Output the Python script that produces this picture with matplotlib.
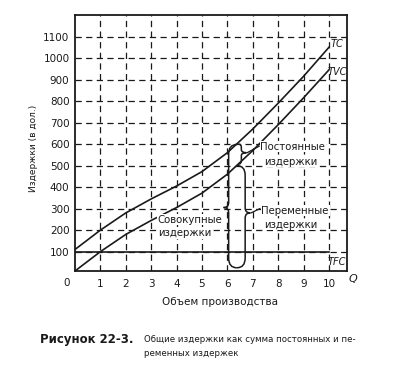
import matplotlib
matplotlib.use("Agg")
import matplotlib.pyplot as plt
from matplotlib.path import Path
from matplotlib.patches import PathPatch

# Данные
q = [0, 1, 2, 3, 4, 5, 6, 7, 8, 9, 10]
tc = [110, 200, 280, 345, 405, 472, 560, 670, 790, 915, 1050]
tvc = [10, 100, 180, 245, 305, 372, 460, 570, 690, 815, 945]
tfc_q = [0, 10]
tfc = [100, 100]

x_ticks = [1, 2, 3, 4, 5, 6, 7, 8, 9, 10]
y_ticks = [100, 200, 300, 400, 500, 600, 700, 800, 900, 1000, 1100]

W, H = 398, 374
cvet = "#1a1a1a"


def fx(px):
    return px / W


def fy(py):
    return 1 - py / H


def skobka(ax, x, y0, y1, ym, d, w_tip, w_end, h_end, h_tip):
    # фигурная скобка: d=-1 острие влево, d=1 острие вправо
    verts = [(x - d * w_end, y0), (x, y0), (x, y0 + h_end),
             (x, ym - h_tip), (x, ym), (x + d * w_tip, ym),
             (x, ym), (x, ym + h_tip),
             (x, y1 - h_end), (x, y1), (x - d * w_end, y1)]
    codes = [Path.MOVETO, Path.CURVE3, Path.CURVE3,
             Path.LINETO, Path.CURVE3, Path.CURVE3,
             Path.CURVE3, Path.CURVE3,
             Path.LINETO, Path.CURVE3, Path.CURVE3]
    ax.add_patch(PathPatch(Path(verts, codes), fc="none", ec=cvet, lw=1.1, zorder=4))


fig = plt.figure(figsize=(W / 100, H / 100), dpi=100)
ax = fig.add_axes([fx(75), fy(271), (347 - 75) / W, (271 - 15) / H])

ax.plot(q, tc, color=cvet, lw=1.2, zorder=3)
ax.plot(q, tvc, color=cvet, lw=1.2, zorder=3)
ax.plot(tfc_q, tfc, color=cvet, lw=1.2, zorder=3)

ax.set_xlim(0, 10.71)
ax.set_ylim(10, 1200)
ax.set_xticks(x_ticks)
ax.set_yticks(y_ticks)
ax.tick_params(length=0, labelsize=7.5, colors=cvet)
ax.tick_params(axis="x", pad=6)
ax.tick_params(axis="y", pad=4)
ax.grid(True, color=cvet, linestyle=(0, (5, 3.5)), linewidth=0.9)
for sp in ax.spines.values():
    sp.set_linewidth(1.3)
    sp.set_color(cvet)

# подписи кривых
ax.text(10.06, 1063, "TC", style="italic", fontsize=7, va="center", ha="left", color=cvet)
ax.text(9.94, 937, "TVC", style="italic", fontsize=7, va="center", ha="left", color=cvet)
ax.text(9.94, 50, "TFC", style="italic", fontsize=7, va="center", ha="left", color=cvet)

# скобки
skobka(ax, 6.05, 25, 598, 305, -1, 0.2, 0.32, 45, 24)
skobka(ax, 6.7, 25, 500, 280, 1, 0.2, 0.33, 45, 24)
skobka(ax, 6.55, 507, 600, 560, 1, 0.2, 0.12, 15, 14)

ax.plot([6.78, 7.25], [560, 590], color=cvet, lw=0.9, zorder=4)
ax.plot([6.93, 7.28], [280, 300], color=cvet, lw=0.9, zorder=4)

fon = dict(fc="white", ec="none", pad=0.6)
ax.text(7.3, 588, "Постоянные", fontsize=7.3, va="center", ha="left", color=cvet, bbox=fon, zorder=5)
ax.text(7.46, 519, "издержки", fontsize=7.3, va="center", ha="left", color=cvet, bbox=fon, zorder=5)
ax.text(7.34, 291, "Переменные", fontsize=7.3, va="center", ha="left", color=cvet, bbox=fon, zorder=5)
ax.text(7.46, 226, "издержки", fontsize=7.3, va="center", ha="left", color=cvet, bbox=fon, zorder=5)
ax.text(3.25, 249, "Совокупные", fontsize=7.3, va="center", ha="left", color=cvet, bbox=fon, zorder=5)
ax.text(3.29, 188, "издержки", fontsize=7.3, va="center", ha="left", color=cvet, bbox=fon, zorder=5)

# оси
fig.text(fx(67), fy(283), "0", fontsize=7.5, ha="center", va="center", color=cvet)
fig.text(fx(353), fy(279), "Q", style="italic", fontsize=8, ha="center", va="center", color=cvet)
fig.text(fx(220), fy(302), "Объем производства", fontsize=7.5, ha="center", va="center", color=cvet)
fig.text(fx(33), fy(148), "Издержки (в дол.)", fontsize=6.5, rotation=90, ha="center", va="center", color=cvet)

# подпись рисунка
fig.text(fx(40), fy(340), "Рисунок 22-3.", fontsize=8.5, weight="bold", ha="left", va="center", color=cvet)
fig.text(fx(144), fy(340), "Общие издержки как сумма постоянных и пе-", fontsize=6.2, ha="left", va="center", color=cvet)
fig.text(fx(144), fy(353), "ременных издержек", fontsize=6.2, ha="left", va="center", color=cvet)

fig.savefig("out.png", dpi=100, facecolor="white")
